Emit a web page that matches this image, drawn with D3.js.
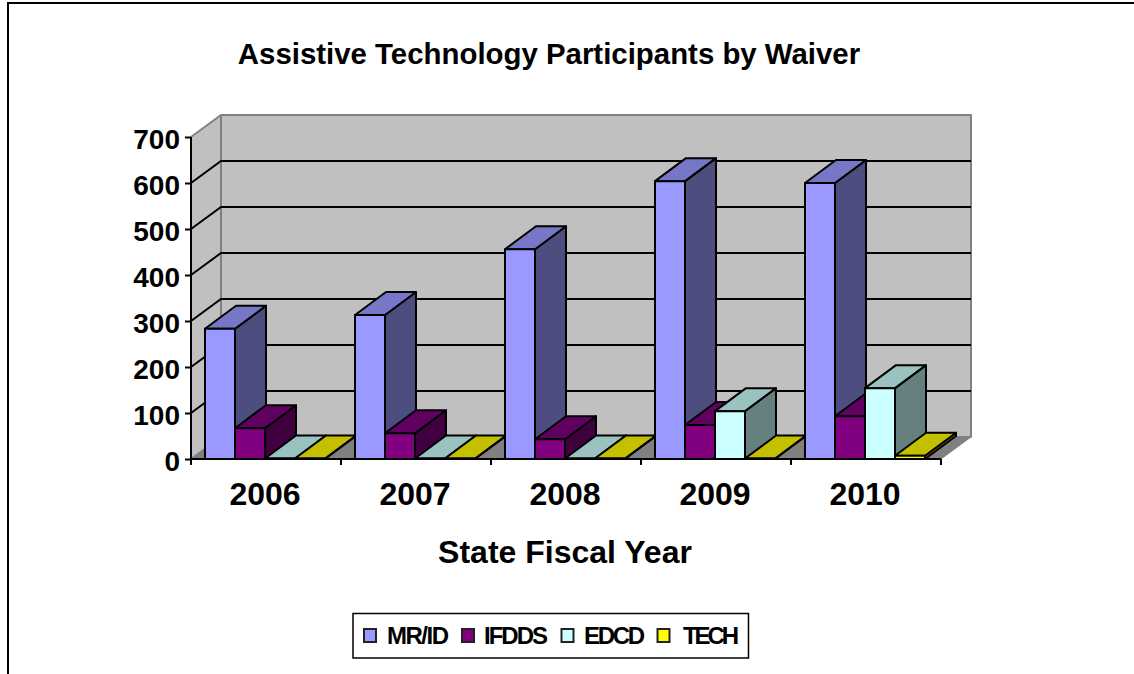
<!DOCTYPE html>
<html><head><meta charset="utf-8">
<script src="https://d3js.org/d3.v7.min.js"></script>
<style>html,body{margin:0;padding:0;background:#fff}svg{display:block}text{font-family:"Liberation Sans",Arial,sans-serif;font-weight:bold;fill:#000}</style>
</head><body><svg id="c" width="1134" height="674"></svg>
<script>
const categories=["2006","2007","2008","2009","2010"];
const seriesNames=["MR/ID","IFDDS","EDCD","TECH"];
const mrid=[283,313,456,604,600];
const ifdds=[67,56,43,74,93];
const edcd=[1,1,1,104,154];
const tech=[1,1,1,1,7];
const yTicks=[0,100,200,300,400,500,600,700];
const frontColors=["#9999ff","#800080","#ccffff","#ffff00"];
const topColors=["#7777c8","#600060","#99c2c0","#c4c000"];
const sideColors=["#4d4d80","#400040","#668080","#808000"];
const title="Assistive Technology Participants by Waiver";
const xTitle="State Fiscal Year";

const values=[mrid,ifdds,edcd,tech];
const svg=d3.select("#c");
const dx=30,dy=22,bdx=31,bdy=23;
const x=d3.scaleBand().domain(categories).range([191,941]).paddingInner(0).paddingOuter(0);
const y=d3.scaleLinear().domain([0,700]).range([459,137]);
const inner=d3.scaleBand().domain(seriesNames).range([14,134]);
const line=d3.line();
const poly=(pts,fill,stroke,sw)=>svg.append("path").attr("d",line(pts)+"Z").attr("fill",fill).attr("stroke",stroke||"none").attr("stroke-width",sw||0).attr("stroke-linejoin","round");

// outer frame: left and top edges only, running off the page
svg.append("path").attr("d","M8,674V3H1134").attr("fill","none").attr("stroke","#000").attr("stroke-width",2);

const [x0,x1]=x.range(), y0=y(0), yT=y(700);
// walls and floor
poly([[x0,yT],[x0+dx,yT-dy],[x0+dx,y0-dy],[x0,y0]],"#c0c0c0","#808080",2);
poly([[x0+dx,yT-dy],[x1+dx,yT-dy],[x1+dx,y0-dy],[x0+dx,y0-dy]],"#c0c0c0","#808080",2);
poly([[x0,y0],[x0+dx,y0-dy],[x1+dx,y0-dy],[x1,y0]],"#808080","#808080",1);
// gridlines
yTicks.slice(1,-1).forEach(t=>{
  svg.append("path").attr("d",line([[x0,y(t)],[x0+dx,y(t)-dy],[x1+dx,y(t)-dy]])).attr("fill","none").attr("stroke","#000").attr("stroke-width",2);
});
// bars
categories.forEach((c,i)=>{
  seriesNames.forEach((s,j)=>{
    const l=x(c)+inner(s), r=l+inner.bandwidth(), b=y0, t=y(values[j][i]);
    poly([[r,b],[r+bdx,b-bdy],[r+bdx,t-bdy],[r,t]],sideColors[j],"#000",2);
    poly([[l,t],[l+bdx,t-bdy],[r+bdx,t-bdy],[r,t]],topColors[j],"#000",2);
    poly([[l,b],[r,b],[r,t],[l,t]],frontColors[j],"#000",2);
  });
});
// axes
const yAxis=d3.axisLeft(y).tickValues(yTicks).tickSize(6).tickPadding(5);
const gy=svg.append("g").attr("transform",`translate(${x0},0)`).call(yAxis);
gy.select(".domain").attr("stroke-width",2).attr("d",`M0,${yT}V${y0}`);
gy.selectAll("line").attr("stroke-width",2);
gy.selectAll("text").style("font-size","28px").style("font-family",'"Liberation Sans"').attr("dy","0.42em");
const gx=svg.append("g").attr("transform",`translate(0,${y0})`);
gx.append("path").attr("d",`M${x0},0H${x1}`).attr("stroke","#000").attr("stroke-width",2);
d3.range(categories.length+1).forEach(i=>{
  const px=x0+i*x.step();
  gx.append("line").attr("x1",px).attr("x2",px).attr("y1",0).attr("y2",6).attr("stroke","#000").attr("stroke-width",2);
});
categories.forEach(c=>{
  svg.append("text").attr("x",x(c)+x.bandwidth()/2-1).attr("y",505).attr("text-anchor","middle").style("font-size","32px").text(c);
});
// titles
svg.append("text").attr("x",549).attr("y",64).attr("text-anchor","middle").style("font-size","29.4px").text(title);
svg.append("text").attr("x",565).attr("y",563).attr("text-anchor","middle").style("font-size","32px").text(xTitle);
// legend
svg.append("rect").attr("x",353).attr("y",613.5).attr("width",395.5).attr("height",44.5).attr("fill","#fff").attr("stroke","#000").attr("stroke-width",1.5);
const lx=[364,462,561.5,657.5], tx=[387,484,584,683], tw=[62,64,61,56];
seriesNames.forEach((s,j)=>{
  svg.append("rect").attr("x",lx[j]).attr("y",629).attr("width",12).attr("height",13).attr("fill",frontColors[j]).attr("stroke","#222").attr("stroke-width",2);
  svg.append("text").attr("x",tx[j]).attr("y",644).attr("textLength",tw[j]).attr("lengthAdjust","spacing").style("font-size","24px").text(s);
});
</script></body></html>
